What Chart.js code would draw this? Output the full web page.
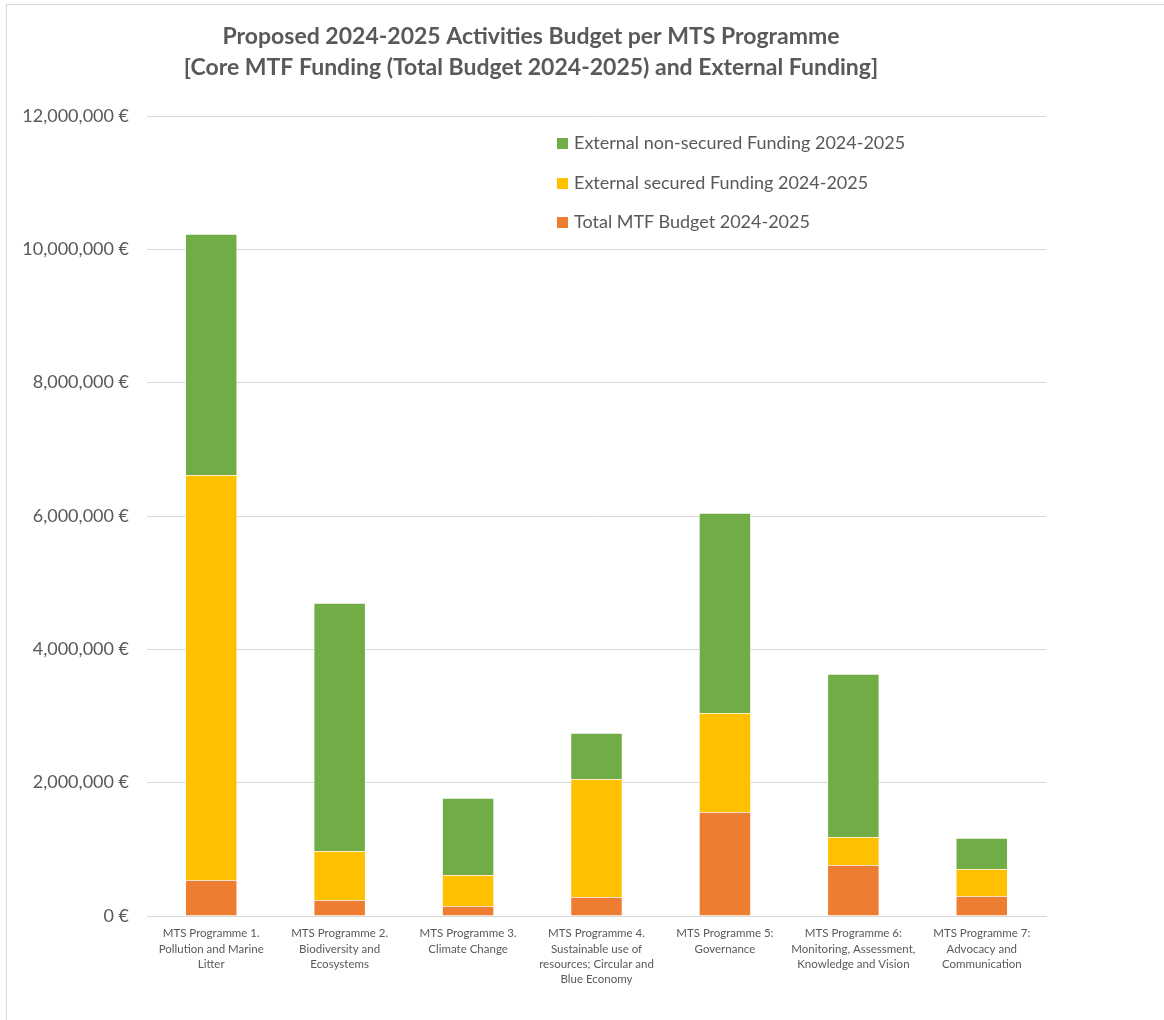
<!DOCTYPE html>
<html>
<head>
<meta charset="utf-8">
<script src="https://cdn.jsdelivr.net/npm/chart.js@4.4.1/dist/chart.umd.min.js"></script>
<style>
  html, body { margin: 0; padding: 0; background: #fff; overflow: hidden; }
  #wrap { position: relative; width: 1164px; height: 1020px; }
  #frame { position: absolute; left: 6px; top: 4px; width: 1300px; height: 1100px;
           border-left: 1px solid #d9d9d9; border-top: 1px solid #d9d9d9; }
  #chart { position: absolute; left: 0; top: 0; }
  #legend { position: absolute; left: 557px; top: 131px; font-family: Lato, "Open Sans", sans-serif;
            font-size: 18px; color: #595959; }
  #legend div { height: 39.5px; display: flex; align-items: flex-start; }
  #legend span.sw { display: inline-block; width: 11px; height: 11px; margin: 7px 6px 0 0; }
</style>
</head>
<body>
<div id="wrap">
  <div id="frame"></div>
  <canvas id="chart" width="1164" height="1020"></canvas>
  <div id="legend"></div>
</div>
<script>
// 類別與數值
const categories = [
  ['MTS Programme 1.', 'Pollution and Marine', 'Litter'],
  ['MTS Programme 2.', 'Biodiversity and', 'Ecosystems'],
  ['MTS Programme 3.', 'Climate Change'],
  ['MTS Programme 4.', 'Sustainable use of', 'resources; Circular and', 'Blue Economy'],
  ['MTS Programme 5:', 'Governance'],
  ['MTS Programme 6:', 'Monitoring, Assessment,', 'Knowledge and Vision'],
  ['MTS Programme 7:', 'Advocacy and', 'Communication']
];
const totalMTF = [540000, 240000, 150000, 285000, 1560000, 765000, 300000];
const extSecured = [6075000, 735000, 465000, 1770000, 1485000, 420000, 405000];
const extNonSecured = [3615000, 3720000, 1155000, 690000, 3000000, 2445000, 465000];
const yTicks = [0, 2000000, 4000000, 6000000, 8000000, 10000000, 12000000];

const FONT = 'Lato, "Open Sans", sans-serif';
const TEXT = '#595959';
const GRID = '#d9d9d9';

const datasets = [
  { label: 'Total MTF Budget 2024-2025', data: totalMTF, backgroundColor: '#ED7D31' },
  { label: 'External secured Funding 2024-2025', data: extSecured, backgroundColor: '#FFC000' },
  { label: 'External non-secured Funding 2024-2025', data: extNonSecured, backgroundColor: '#70AD47' }
].map(ds => ({ ...ds, borderColor: '#ffffff', borderWidth: 0.75, categoryPercentage: 0.405, barPercentage: 1 }));

new Chart(document.getElementById('chart'), {
  type: 'bar',
  data: { labels: categories, datasets },
  options: {
    responsive: false,
    animation: false,
    layout: { padding: { left: 16, right: 118, top: 0, bottom: 0 } },
    plugins: {
      legend: { display: false },
      tooltip: { enabled: false },
      title: {
        display: true,
        text: ['Proposed 2024-2025 Activities Budget per MTS Programme',
               '[Core MTF Funding (Total Budget 2024-2025) and External Funding]'],
        color: TEXT,
        font: { family: FONT, size: 23, weight: 'bold', lineHeight: 1.35 },
        padding: { top: 21.5, bottom: 32.4 }
      }
    },
    scales: {
      x: {
        stacked: true,
        grid: { display: false, drawTicks: false },
        border: { display: true, color: GRID, width: 1 },
        ticks: { color: TEXT, font: { family: FONT, size: 11.5, lineHeight: 1.33 }, padding: 10, maxRotation: 0, autoSkip: false },
        afterFit: (scale) => { scale.height = 104; }
      },
      y: {
        stacked: true,
        min: 0,
        max: 12000000,
        afterBuildTicks: (scale) => { scale.ticks = yTicks.map(v => ({ value: v })); },
        grid: { color: GRID, lineWidth: 1, drawTicks: false },
        border: { display: false },
        ticks: {
          color: TEXT,
          font: { family: FONT, size: 18 },
          padding: 18,
          callback: (v) => Number(v).toLocaleString('en-US') + ' €'
        },
        afterFit: (scale) => { scale.width = 131; }
      }
    }
  }
});

// 圖例（順序與堆疊相反）
const legendEl = document.getElementById('legend');
datasets.slice().reverse().forEach(ds => {
  const row = document.createElement('div');
  row.innerHTML = '<span class="sw" style="background:' + ds.backgroundColor + '"></span>' + ds.label;
  legendEl.appendChild(row);
});
</script>
</body>
</html>
